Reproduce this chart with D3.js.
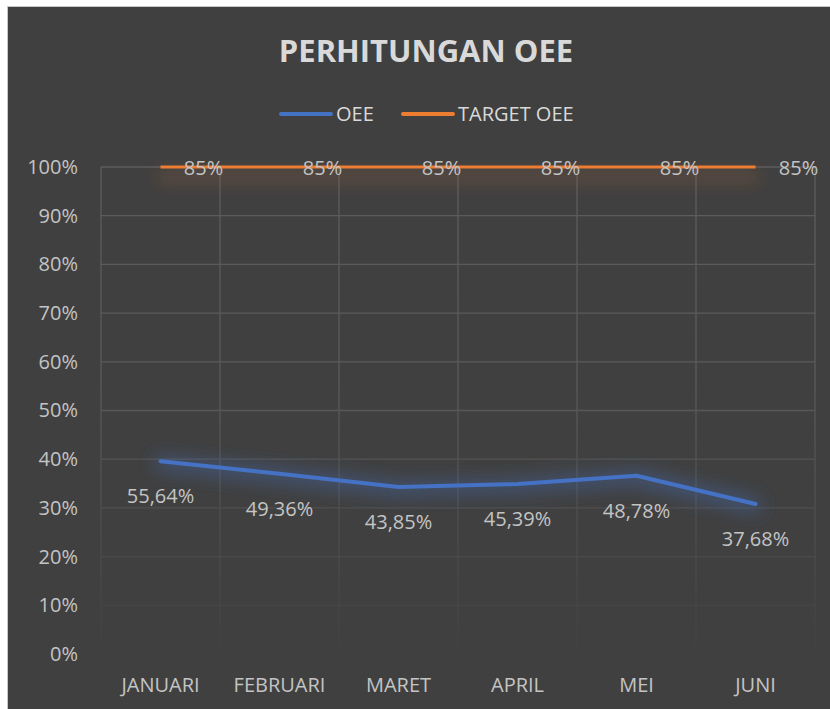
<!DOCTYPE html>
<html>
<head>
<meta charset="utf-8">
<script src="https://cdn.jsdelivr.net/npm/d3@7"></script>
<style>
  html, body { margin: 0; padding: 0; background: #fff; }
  svg { display: block; font-family: "Open Sans", "Noto Sans", sans-serif; }
</style>
</head>
<body>
<div id="chart"></div>
<script>
// data
var categories = ["JANUARI", "FEBRUARI", "MARET", "APRIL", "MEI", "JUNI"];
var oeeValues = [0.396, 0.370, 0.343, 0.349, 0.366, 0.308];
var oeeLabels = ["55,64%", "49,36%", "43,85%", "45,39%", "48,78%", "37,68%"];
var targetValues = [1, 1, 1, 1, 1, 1];
var targetLabels = ["85%", "85%", "85%", "85%", "85%", "85%"];
var yTicks = [0, 0.1, 0.2, 0.3, 0.4, 0.5, 0.6, 0.7, 0.8, 0.9, 1];

var W = 830, H = 709;
var plot = {left: 101, right: 815, top: 167, bottom: 654};

var svg = d3.select("#chart").append("svg")
  .attr("width", W)
  .attr("height", H);

var defs = svg.append("defs");

// gridlines fade out toward the bottom
var grad = defs.append("linearGradient")
  .attr("id", "gridFade")
  .attr("gradientUnits", "userSpaceOnUse")
  .attr("x1", 0).attr("y1", plot.top)
  .attr("x2", 0).attr("y2", plot.bottom);
grad.append("stop").attr("offset", "0%").attr("stop-color", "#5c5c5c");
grad.append("stop").attr("offset", "45%").attr("stop-color", "#5a5a5a");
grad.append("stop").attr("offset", "100%").attr("stop-color", "#414141");

// soft glow under a line (user space region so flat lines still render)
function glow(id, color, dy, sd, op) {
  var f = defs.append("filter").attr("id", id)
    .attr("filterUnits", "userSpaceOnUse")
    .attr("x", 0).attr("y", 0).attr("width", W).attr("height", H);
  f.append("feMorphology").attr("in", "SourceAlpha").attr("operator", "dilate").attr("radius", 3).attr("result", "d");
  f.append("feGaussianBlur").attr("in", "d").attr("stdDeviation", sd).attr("result", "b");
  f.append("feOffset").attr("in", "b").attr("dy", dy).attr("result", "o");
  f.append("feFlood").attr("flood-color", color).attr("flood-opacity", op);
  f.append("feComposite").attr("in2", "o").attr("operator", "in").attr("result", "g");
  var m = f.append("feMerge");
  m.append("feMergeNode").attr("in", "g");
  m.append("feMergeNode").attr("in", "SourceGraphic");
}
glow("glowBlue", "#4472c4", 2, 9, 0.55);
glow("glowOrange", "#ed7d31", 10, 8, 0.22);

// chart area
svg.append("rect")
  .attr("x", 7.5).attr("y", 6.5)
  .attr("width", W).attr("height", H)
  .attr("fill", "#404040")
  .attr("stroke", "#c8c8c8")
  .attr("stroke-width", 1);

// title
svg.append("text")
  .attr("x", 426).attr("y", 62)
  .attr("text-anchor", "middle")
  .attr("font-size", 31)
  .attr("font-weight", "bold")
  .attr("fill", "#d9d9d9")
  .text("PERHITUNGAN OEE");

// legend
var legend = [
  {name: "OEE", color: "#4472c4", x: 279},
  {name: "TARGET OEE", color: "#ed7d31", x: 401}
];
legend.forEach(function(d) {
  svg.append("line")
    .attr("x1", d.x + 2).attr("x2", d.x + 52)
    .attr("y1", 114).attr("y2", 114)
    .attr("stroke", d.color)
    .attr("stroke-width", 4)
    .attr("stroke-linecap", "round");
  svg.append("text")
    .attr("x", d.x + 57).attr("y", 121)
    .attr("font-size", 20)
    .attr("fill", "#d9d9d9")
    .text(d.name);
});

var x = d3.scaleBand()
  .domain(categories)
  .range([plot.left, plot.right]);

var y = d3.scaleLinear()
  .domain([0, 1])
  .range([plot.bottom, plot.top]);

function cx(c) { return x(c) + x.bandwidth() / 2; }

// gridlines
var grid = svg.append("g")
  .attr("stroke", "url(#gridFade)")
  .attr("stroke-width", 1.3);
grid.selectAll(".h").data(yTicks).enter().append("line")
  .attr("x1", plot.left).attr("x2", plot.right)
  .attr("y1", function(d) { return y(d); })
  .attr("y2", function(d) { return y(d); });
var bounds = categories.map(function(c) { return x(c); }).concat([plot.right]);
grid.selectAll(".v").data(bounds).enter().append("line")
  .attr("x1", function(d) { return d; }).attr("x2", function(d) { return d; })
  .attr("y1", plot.top).attr("y2", plot.bottom);

// axes
var yAxis = svg.append("g")
  .attr("transform", "translate(" + plot.left + ",0)")
  .call(d3.axisLeft(y).tickValues(yTicks).tickFormat(d3.format(".0%")).tickSize(0).tickPadding(23));
yAxis.select(".domain").remove();
yAxis.selectAll("text")
  .attr("font-size", 20)
  .attr("font-family", "'Open Sans', sans-serif")
  .attr("fill", "#c4c4c4");

var xAxis = svg.append("g")
  .attr("transform", "translate(0," + plot.bottom + ")")
  .call(d3.axisBottom(x).tickSize(0).tickPadding(24));
xAxis.select(".domain").remove();
xAxis.selectAll("text")
  .attr("font-size", 20)
  .attr("font-family", "'Open Sans', sans-serif")
  .attr("fill", "#c4c4c4");

// lines
var line = d3.line()
  .x(function(d, i) { return cx(categories[i]); })
  .y(function(d) { return y(d); });

svg.append("path")
  .datum(targetValues)
  .attr("fill", "none")
  .attr("stroke", "#ed7d31")
  .attr("stroke-width", 3.2)
  .attr("filter", "url(#glowOrange)")
  .attr("d", line);

svg.append("path")
  .datum(oeeValues)
  .attr("fill", "none")
  .attr("stroke", "#4472c4")
  .attr("stroke-width", 4)
  .attr("stroke-linecap", "round")
  .attr("stroke-linejoin", "round")
  .attr("filter", "url(#glowBlue)")
  .attr("d", line);

// data labels
svg.append("g").selectAll("text").data(oeeValues).enter().append("text")
  .attr("x", function(d, i) { return cx(categories[i]); })
  .attr("y", function(d) { return y(d) + 35; })
  .attr("dy", "0.35em")
  .attr("text-anchor", "middle")
  .attr("font-size", 20)
  .attr("fill", "#c4c4c4")
  .text(function(d, i) { return oeeLabels[i]; });

svg.append("g").selectAll("text").data(targetValues).enter().append("text")
  .attr("x", function(d, i) { return cx(categories[i]) + 43; })
  .attr("y", function(d) { return y(d) + 1; })
  .attr("dy", "0.35em")
  .attr("text-anchor", "middle")
  .attr("font-size", 20)
  .attr("fill", "#c4c4c4")
  .text(function(d, i) { return targetLabels[i]; });
</script>
</body>
</html>
